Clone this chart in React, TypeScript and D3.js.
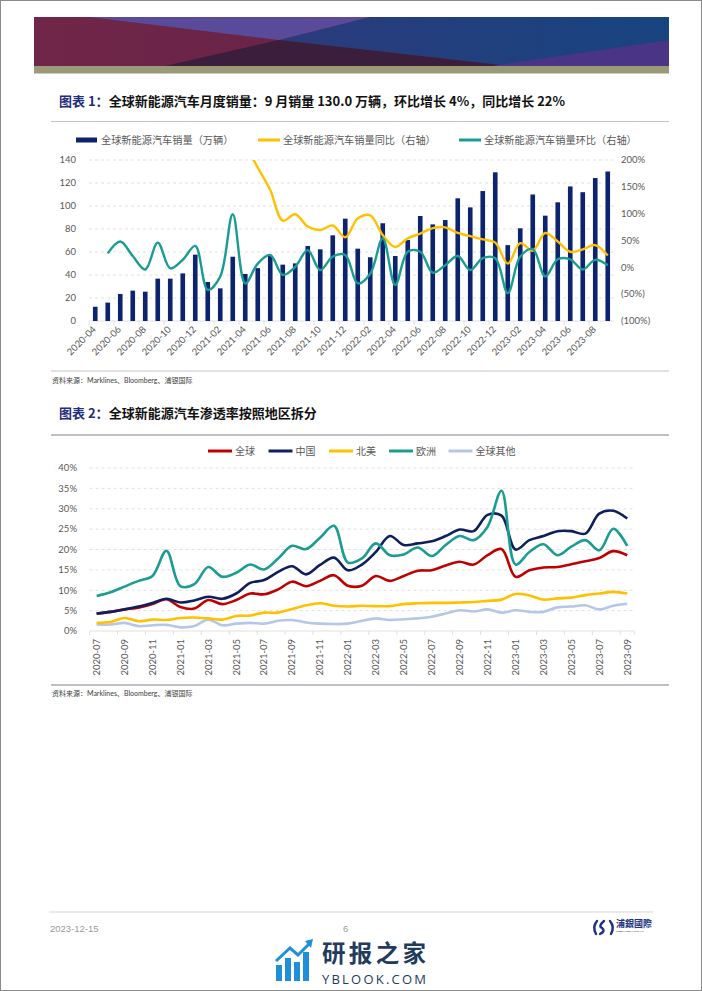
import * as d3 from "d3";

// chart 1: monthly global NEV sales
const salesMonths = [
  "2020-04", "2020-05", "2020-06", "2020-07", "2020-08", "2020-09", "2020-10", "2020-11", "2020-12",
  "2021-01", "2021-02", "2021-03", "2021-04", "2021-05", "2021-06", "2021-07", "2021-08", "2021-09",
  "2021-10", "2021-11", "2021-12", "2022-01", "2022-02", "2022-03", "2022-04", "2022-05", "2022-06",
  "2022-07", "2022-08", "2022-09", "2022-10", "2022-11", "2022-12", "2023-01", "2023-02", "2023-03",
  "2023-04", "2023-05", "2023-06", "2023-07", "2023-08", "2023-09",
];
const sales = [
  12.4, 16, 23.5, 26.4, 25.5, 36.8, 36.8, 41.4, 57.7, 33.9, 28.4, 55.9, 40.9, 46, 56.5, 49, 50.1,
  65.2, 62.3, 74.5, 89, 62.9, 55.4, 85, 56.5, 70.4, 91.3, 84, 87.8, 106.7, 98.8, 113, 129.3, 66,
  80.6, 110, 91.6, 103.2, 117, 112, 124.3, 130,
];
const salesYoY: (number | null)[] = [
  null, null, null, null, null, null, null, null, null, null, null, null,
  228, 186, 144, 87, 99, 76, 69.5, 78, 56, 91, 97, 60, 38, 54, 63, 73, 74.5, 64, 58, 52, 46, 7,
  45, 31, 64, 48, 29, 33.5, 41.5, 22,
];
const salesMoM: (number | null)[] = [
  null, 26, 48, 21, -4, 46, -2, 14, 40, -42, -17, 99, -30, 7, 23, -14, 1, 32, -5, 20, 23, -30,
  -12, 54, -33, 29, 29, -10, 4, 21, -5, 17, 17, -48, 20, 34, -17, 15, 15, -4, 14, 4,
];
const leftTicks = [0, 20, 40, 60, 80, 100, 120, 140];
const rightTicks = [-100, -50, 0, 50, 100, 150, 200];

// chart 2: penetration rate by region (%)
const rateMonths = [
  "2020-07", "2020-08", "2020-09", "2020-10", "2020-11", "2020-12", "2021-01", "2021-02", "2021-03",
  "2021-04", "2021-05", "2021-06", "2021-07", "2021-08", "2021-09", "2021-10", "2021-11", "2021-12",
  "2022-01", "2022-02", "2022-03", "2022-04", "2022-05", "2022-06", "2022-07", "2022-08", "2022-09",
  "2022-10", "2022-11", "2022-12", "2023-01", "2023-02", "2023-03", "2023-04", "2023-05", "2023-06",
  "2023-07", "2023-08", "2023-09",
];
const rateGlobal = [
  4.3, 4.7, 5.3, 5.7, 6.6, 7.8, 5.9, 5.5, 7.6, 6.6, 7.6, 9.2, 9.0, 10.2, 12.1, 11.0, 12.3, 13.7,
  11.1, 11.1, 13.5, 12.3, 13.5, 14.8, 14.9, 16.1, 17.0, 16.3, 18.6, 20.1, 13.3, 14.9, 15.6, 15.7,
  16.4, 17.1, 17.9, 19.6, 18.6,
];
const rateChina = [
  4.3, 4.7, 5.3, 6.0, 6.9, 7.9, 7.0, 7.5, 8.4, 7.9, 9.2, 11.8, 12.5, 14.5, 15.9, 13.9, 16.2, 18.0,
  14.9, 16.3, 19.4, 23.3, 21.1, 21.5, 22.0, 23.3, 24.9, 24.5, 28.5, 28.3, 20.0, 22.3, 23.3, 24.5,
  24.5, 23.9, 28.8, 29.5, 27.6,
];
const rateNA = [
  2.0, 2.2, 3.2, 2.4, 2.8, 2.7, 3.2, 3.3, 3.1, 2.8, 3.7, 3.8, 4.5, 4.5, 5.4, 6.3, 6.8, 6.2, 6.0,
  6.2, 6.1, 6.1, 6.6, 6.8, 6.9, 6.9, 7.0, 7.1, 7.4, 7.7, 9.1, 8.7, 7.7, 8.0, 8.2, 8.8, 9.2, 9.6, 9.2,
];
const rateEurope = [
  8.6, 9.5, 10.9, 12.3, 13.5, 19.7, 11.0, 11.5, 15.7, 13.3, 14.3, 16.3, 15.1, 17.8, 20.9, 20.1,
  22.9, 25.8, 16.8, 17.8, 21.5, 18.6, 18.8, 20.5, 18.4, 21.1, 23.3, 22.3, 25.6, 34.4, 16.3, 19.4,
  21.3, 18.6, 20.7, 22.3, 19.8, 25.1, 20.9,
];
const rateRest = [
  1.6, 1.6, 2.0, 1.2, 1.4, 1.5, 0.9, 1.2, 2.8, 1.4, 1.8, 2.0, 1.8, 2.5, 2.7, 2.1, 1.8, 1.7, 1.8,
  2.5, 3.1, 2.7, 2.9, 3.1, 3.5, 4.3, 5.1, 4.8, 5.3, 4.5, 5.1, 4.7, 4.7, 5.8, 6.0, 6.3, 5.3, 6.2, 6.7,
];
const rateTicks = [0, 5, 10, 15, 20, 25, 30, 35, 40];

const NUM = "Lato, 'Open Sans', sans-serif";
const CJK = "'Noto Sans CJK SC', sans-serif";
const GRID = "#d9d9d9";
const LABEL = "#595959";

const C = {
  bar: "#0c2470",
  yellow: "#ffc000",
  teal: "#1a9c92",
  red: "#c00000",
  navy: "#0f1f5c",
  lightBlue: "#b4c7e7",
};

function Banner() {
  return (
    <g>
      <defs>
        <linearGradient id="maroon" x1="0" x2="1">
          <stop offset="0" stopColor="#702649" />
          <stop offset="1" stopColor="#5e2045" />
        </linearGradient>
        <linearGradient id="navyg" x1="0" x2="1">
          <stop offset="0" stopColor="#2b3b7c" />
          <stop offset="1" stopColor="#17447f" />
        </linearGradient>
      </defs>
      <rect x={34} y={17} width={635} height={49} fill="url(#maroon)" />
      <polygon points="370,17 669,17 669,66 509,66 279,40" fill="url(#navyg)" />
      <polygon points="89,17 370,17 279,40" fill="#5a4b9a" />
      <polygon points="165,66 279,40 509,66" fill="#3b1d3c" />
      <polygon points="491,66 669,40 669,66" fill="#4a3486" />
      <rect x={34} y={66} width={635} height={7.5} fill="#9a9a78" />
    </g>
  );
}

function Title({ y, num, text }: { y: number; num: string; text: string }) {
  return (
    <text x={59} y={y} fontFamily={CJK} fontWeight={700} fontSize={13} fill="#111">
      <tspan fill="#1f2d7b">{`图表 ${num}：`}</tspan>
      {text}
    </text>
  );
}

function SalesChart() {
  const left = 89;
  const right = 614;
  const top = 160;
  const bottom = 321;
  const x = d3.scaleBand(salesMonths, [left, right]);
  const cx = (m: string) => (x(m) as number) + x.bandwidth() / 2;
  const yL = d3.scaleLinear([0, 140], [bottom, top]);
  const yR = d3.scaleLinear([-100, 200], [bottom, top]);
  const barW = x.bandwidth() * 0.37;

  const line = d3
    .line<number | null>()
    .defined((d) => d !== null)
    .x((_, i) => cx(salesMonths[i]))
    .y((d) => yR(d as number))
    .curve(d3.curveCatmullRom);

  const legend = [
    { kind: "rect", color: C.bar, label: "全球新能源汽车销量（万辆）", x: 76 },
    { kind: "line", color: C.yellow, label: "全球新能源汽车销量同比（右轴）", x: 258 },
    { kind: "line", color: C.teal, label: "全球新能源汽车销量环比（右轴）", x: 459 },
  ];

  return (
    <g>
      <clipPath id="plot1">
        <rect x={left} y={top} width={right - left} height={bottom - top} />
      </clipPath>
      {legend.map((l) => (
        <g key={l.label}>
          {l.kind === "rect" ? (
            <rect x={l.x} y={137.5} width={21} height={5} fill={l.color} />
          ) : (
            <line x1={l.x} x2={l.x + 22} y1={140} y2={140} stroke={l.color} strokeWidth={3} />
          )}
          <text x={l.x + 25} y={143.8} fontFamily={CJK} fontSize={10.2} fill={LABEL}>
            {l.label}
          </text>
        </g>
      ))}
      {leftTicks.map((t) => (
        <g key={t}>
          {t > 0 && (
            <line x1={left} x2={right} y1={yL(t)} y2={yL(t)} stroke={GRID} strokeWidth={0.8} strokeDasharray="3,3" />
          )}
          <text x={76} y={yL(t)} dy="0.35em" textAnchor="end" fontFamily={NUM} fontSize={9.5} fill={LABEL}>
            {t}
          </text>
        </g>
      ))}
      {rightTicks.map((t) => (
        <text key={t} x={621} y={yR(t)} dy="0.35em" fontFamily={NUM} fontSize={9.5} fill={LABEL}>
          {t < 0 ? `(${-t}%)` : `${t}%`}
        </text>
      ))}
      <line x1={left} x2={right} y1={bottom} y2={bottom} stroke={GRID} strokeWidth={0.8} />
      {salesMonths.map((m, i) =>
        i % 2 === 0 ? (
          <g key={m}>
            <line x1={x(m)} x2={x(m)} y1={bottom} y2={bottom + 4} stroke={GRID} strokeWidth={0.8} />
            <text
              transform={`translate(${cx(m) + 1.5},${bottom + 9}) rotate(-45)`}
              textAnchor="end"
              fontFamily={NUM}
              fontSize={9.5}
              fill={LABEL}
            >
              {m}
            </text>
          </g>
        ) : null
      )}
      {sales.map((v, i) => (
        <rect
          key={i}
          x={cx(salesMonths[i]) - barW / 2}
          y={yL(v)}
          width={barW}
          height={bottom - yL(v)}
          fill={C.bar}
        />
      ))}
      <g clipPath="url(#plot1)" fill="none" strokeWidth={2.4} strokeLinejoin="round">
        <path d={line(salesYoY) ?? ""} stroke={C.yellow} />
        <path d={line(salesMoM) ?? ""} stroke={C.teal} />
      </g>
    </g>
  );
}

function RateChart() {
  const left = 89.6;
  const right = 634.2;
  const top = 468;
  const bottom = 631;
  const x = d3.scalePoint(rateMonths, [left + 7, right - 7]);
  const y = d3.scaleLinear([0, 40], [bottom, top]);
  const step = x.step();
  const line = d3
    .line<number>()
    .x((_, i) => x(rateMonths[i]) as number)
    .y((d) => y(d))
    .curve(d3.curveCatmullRom);

  const series = [
    { label: "全球", color: C.red, values: rateGlobal },
    { label: "中国", color: C.navy, values: rateChina },
    { label: "北美", color: C.yellow, values: rateNA },
    { label: "欧洲", color: C.teal, values: rateEurope },
    { label: "全球其他", color: C.lightBlue, values: rateRest },
  ];
  const legendX = [208, 268.5, 329, 389, 448.5];
  const drawOrder = [4, 2, 0, 1, 3];

  return (
    <g>
      {series.map((s, i) => (
        <g key={s.label}>
          <line x1={legendX[i]} x2={legendX[i] + 24} y1={451} y2={451} stroke={s.color} strokeWidth={3} />
          <text x={legendX[i] + 27} y={454.6} fontFamily={CJK} fontSize={10} fill={LABEL}>
            {s.label}
          </text>
        </g>
      ))}
      {rateTicks.map((t) => (
        <g key={t}>
          {t > 0 && (
            <line x1={left} x2={right} y1={y(t)} y2={y(t)} stroke={GRID} strokeWidth={0.8} strokeDasharray="3,3" />
          )}
          <text x={77} y={y(t)} dy="0.35em" textAnchor="end" fontFamily={NUM} fontSize={9.5} fill={LABEL}>
            {`${t}%`}
          </text>
        </g>
      ))}
      <line x1={left} x2={right} y1={bottom} y2={bottom} stroke={GRID} strokeWidth={0.8} />
      {rateMonths.map((m, i) => {
        const px = x(m) as number;
        return (
          <g key={m}>
            {i % 2 === 0 && (
              <line x1={px - step / 2} x2={px - step / 2} y1={bottom} y2={bottom + 4} stroke={GRID} strokeWidth={0.8} />
            )}
            {i % 2 === 0 && (
              <text
                transform={`translate(${px},${bottom + 8}) rotate(-90)`}
                dy="0.35em"
                textAnchor="end"
                fontFamily={NUM}
                fontSize={9.5}
                fill={LABEL}
              >
                {m}
              </text>
            )}
          </g>
        );
      })}
      <line x1={right} x2={right} y1={bottom} y2={bottom + 4} stroke={GRID} strokeWidth={0.8} />
      <g fill="none" strokeWidth={2.6} strokeLinejoin="round">
        {drawOrder.map((k) => (
          <path key={k} d={line(series[k].values) ?? ""} stroke={series[k].color} />
        ))}
      </g>
    </g>
  );
}

function Source({ y }: { y: number }) {
  return (
    <text x={52} y={y} fontFamily={CJK} fontSize={7} fill="#404040">
      资料来源：<tspan fontFamily={NUM}>Marklines</tspan>、<tspan fontFamily={NUM}>Bloomberg</tspan>、浦银国际
    </text>
  );
}

function Footer() {
  return (
    <g>
      <line x1={49} x2={653} y1={912} y2={912} stroke="#d6d6cf" strokeWidth={1.2} />
      <text x={50} y={932} fontFamily="'Liberation Sans', sans-serif" fontSize={9.5} fill="#9b9b9b">
        2023-12-15
      </text>
      <text x={343} y={932} fontFamily="'Liberation Sans', sans-serif" fontSize={9.5} fill="#9b9b9b">
        6
      </text>
      <g fill="none" stroke="#1d3280" strokeWidth={2.4} strokeLinecap="round">
        <path d="M597,921 Q592,927 596,934" />
        <path d="M604,921 Q598,926 602,928 Q606,931 600,934" />
        <path d="M610,921 Q615,927 611,934" />
      </g>
      <text x={616} y={927} fontFamily={CJK} fontWeight={700} fontSize={9} fill="#1d3280">
        浦銀國際
      </text>
      <text x={616} y={931.5} fontFamily={NUM} fontSize={2.6} fill="#1d3280">
        SPDB INTERNATIONAL
      </text>
      {/* watermark */}
      <g fill="#1e8fd8">
        <rect x={276} y={965} width={6} height={16} />
        <rect x={285} y={958} width={6} height={23} />
        <rect x={294} y={962} width={6} height={19} />
        <rect x={303} y={952} width={6} height={29} />
      </g>
      <path d="M276,961 L290,948 L298,955 L310,943" fill="none" stroke="#1e8fd8" strokeWidth={3} />
      <polygon points="313,939 305,941 311,948" fill="#1e8fd8" />
      <text x={322} y={962} fontFamily={CJK} fontWeight={700} fontSize={23.5} fill="#1f3b5e" textLength={104}>
        研报之家
      </text>
      <text x={322} y={984} fontFamily="'Open Sans', sans-serif" fontSize={13} fill="#1f3b5e" textLength={104}>
        YBLOOK.COM
      </text>
    </g>
  );
}

export default function App() {
  return (
    <div style={{ position: "absolute", left: 0, top: 0 }}>
      <svg width={702} height={991} style={{ display: "block", background: "#fff" }}>
        <rect x={0.5} y={0.5} width={701} height={990} fill="#fff" stroke="#8a8a8a" />
        <Banner />
        <Title y={106} num="1" text="全球新能源汽车月度销量：9 月销量 130.0 万辆，环比增长 4%，同比增长 22%" />
        <line x1={51} x2={669} y1={121.5} y2={121.5} stroke="#c4c4cc" strokeWidth={1.2} />
        <SalesChart />
        <line x1={51} x2={669} y1={371} y2={371} stroke="#c4c4cc" strokeWidth={1.2} />
        <Source y={383} />
        <Title y={418} num="2" text="全球新能源汽车渗透率按照地区拆分" />
        <line x1={51} x2={669} y1={435} y2={435} stroke="#a9a9bb" strokeWidth={1.4} />
        <RateChart />
        <line x1={51} x2={669} y1={685} y2={685} stroke="#a9a9bb" strokeWidth={1.4} />
        <Source y={696} />
        <Footer />
      </svg>
    </div>
  );
}
